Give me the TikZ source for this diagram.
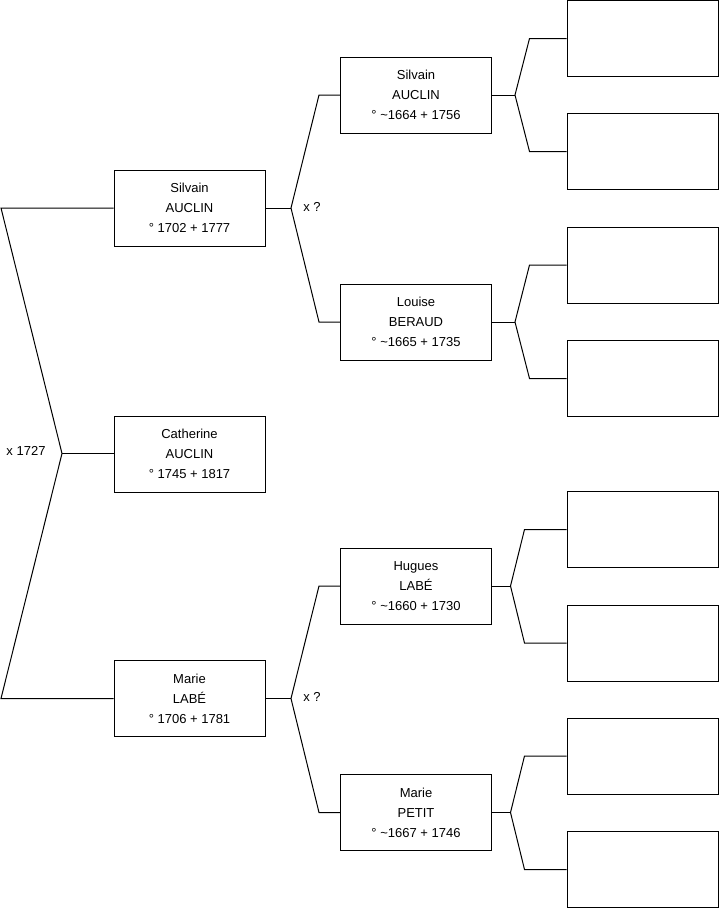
\documentclass[tikz,border=0pt]{standalone}
\usepackage{fontspec}
\setmainfont{Liberation Sans}
\begin{document}
\begin{tikzpicture}[x=1pt,y=-1pt,
  person/.style={draw=black,line width=1pt,rectangle,minimum width=151pt,minimum height=76pt,inner sep=0pt,align=center,font=\fontsize{13}{20}\selectfont},
  link/.style={draw=black,line width=1pt,line join=miter},
  lbl/.style={font=\fontsize{13}{15}\selectfont,inner sep=0pt}]
\useasboundingbox (0,0) rectangle (719,908);
% first generation
\node[person] (s1) at (189.5,208) {Silvain\\AUCLIN\\° 1702 + 1777};
\node[person] (c) at (189.5,454) {Catherine\\AUCLIN\\° 1745 + 1817};
\node[person] (m1) at (189.5,698.5) {Marie\\LABÉ\\° 1706 + 1781};
% second generation
\node[person] (s2) at (416,95) {Silvain\\AUCLIN\\° \textasciitilde1664 + 1756};
\node[person] (l2) at (416,322) {Louise\\BERAUD\\° \textasciitilde1665 + 1735};
\node[person] (h2) at (416,586) {Hugues\\LABÉ\\° \textasciitilde1660 + 1730};
\node[person] (p2) at (416,812.5) {Marie\\PETIT\\° \textasciitilde1667 + 1746};
% empty boxes
\node[person] (e1) at (642.5,38.5) {};
\node[person] (e2) at (642.5,151.5) {};
\node[person] (e3) at (642.5,265) {};
\node[person] (e4) at (642.5,378.5) {};
\node[person] (e5) at (642.5,529.5) {};
\node[person] (e6) at (642.5,643) {};
\node[person] (e7) at (642.5,756) {};
\node[person] (e8) at (642.5,869.5) {};
% left bracket
\coordinate (ja) at (1,208);
\coordinate (jb) at (62,453.5);
\coordinate (jc) at (1,698.5);
\draw[link] (s1.west) -- (ja) -- (jb) -- (jc) -- (m1.west);
\draw[link] (jb) -- (jb -| c.west);
\node[lbl] (x0) at (26,451) {x 1727};
% second level brackets
\coordinate (k1) at (291,208);
\coordinate (k1a) at (319,95);
\coordinate (k1b) at (319,322);
\draw[link] (s1.east) -- (k1);
\draw[link] (s2.west) -- (k1a) -- (k1) -- (k1b) -- (l2.west);
\node[lbl] (x1) at (312,207) {x ?};
\coordinate (k2) at (291,698.5);
\coordinate (k2a) at (319,586);
\coordinate (k2b) at (319,812.5);
\draw[link] (m1.east) -- (k2);
\draw[link] (h2.west) -- (k2a) -- (k2) -- (k2b) -- (p2.west);
\node[lbl] (x2) at (312,697) {x ?};
% third level brackets
\coordinate (q1) at (515,95);
\draw[link] (s2.east) -- (q1);
\draw[link] (e1.west) -- (529.5,38.5) -- (q1) -- (529.5,151.5) -- (e2.west);
\coordinate (q2) at (515,322);
\draw[link] (l2.east) -- (q2);
\draw[link] (e3.west) -- (529.5,265) -- (q2) -- (529.5,378.5) -- (e4.west);
\coordinate (q3) at (510.5,586);
\draw[link] (h2.east) -- (q3);
\draw[link] (e5.west) -- (524.5,529.5) -- (q3) -- (524.5,643) -- (e6.west);
\coordinate (q4) at (510.5,812.5);
\draw[link] (p2.east) -- (q4);
\draw[link] (e7.west) -- (524.5,756) -- (q4) -- (524.5,869.5) -- (e8.west);
\end{tikzpicture}
\end{document}
